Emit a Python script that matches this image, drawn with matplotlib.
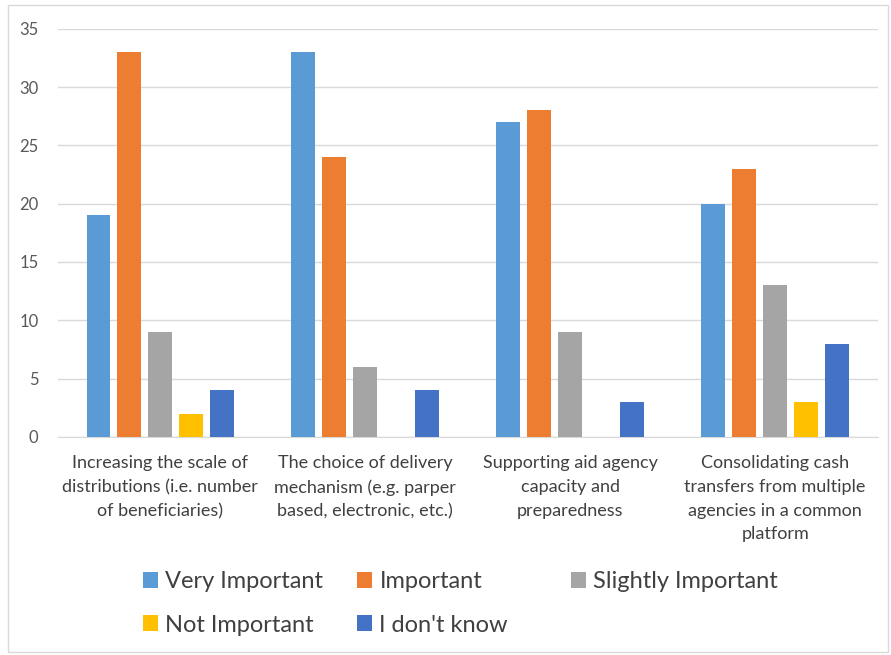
import numpy as np
import matplotlib.pyplot as plt
from matplotlib.patches import Rectangle

categories = ["Increasing the scale of\ndistributions (i.e. number\nof beneficiaries)",
              "The choice of delivery\nmechanism (e.g. parper\nbased, electronic, etc.)",
              "Supporting aid agency\ncapacity and\npreparedness",
              "Consolidating cash\ntransfers from multiple\nagencies in a common\nplatform"]
series = ["Very Important", "Important", "Slightly Important", "Not Important", "I don't know"]
very_important = [19, 33, 27, 20]
important = [33, 24, 28, 23]
slightly_important = [9, 6, 9, 13]
not_important = [2, 0, 0, 3]
dont_know = [4, 4, 3, 8]
values = [very_important, important, slightly_important, not_important, dont_know]
colors = ["#5B9BD5", "#ED7D31", "#A5A5A5", "#FFC000", "#4472C4"]

plt.rcParams['font.family'] = ['Lato', 'DejaVu Sans']

fig = plt.figure(figsize=(8.91, 6.55), dpi=100)
ax = fig.add_axes([0.065, 0.333, 0.92, 0.623])

x = np.arange(len(categories))
step = 0.151
width = 0.117
handles = []
for j, (name, vals) in enumerate(zip(series, values)):
    b = ax.bar(x + (j - 2) * step, vals, width, color=colors[j], label=name, zorder=3)
    handles.append(b)

ax.set_xlim(-0.5, 3.5)
ax.set_ylim(0, 35)
ax.set_yticks(range(0, 36, 5))
ax.grid(axis='y', color='#D9D9D9', linewidth=1, zorder=0)
for s in ['top', 'right', 'left']:
    ax.spines[s].set_visible(False)
ax.spines['bottom'].set_color('#D9D9D9')
ax.tick_params(axis='both', length=0)
ax.tick_params(axis='y', labelsize=12, labelcolor='#595959', pad=14)
ax.set_xticks(x)
ax.set_xticklabels(categories, fontsize=13, color='#404040', linespacing=1.6)
ax.tick_params(axis='x', pad=13)

# legend laid out in fixed-width columns like Excel
cols = [[0, 3], [1, 4], [2]]
col_x = [0.1605, 0.4007, 0.6409]
for cx, idx in zip(col_x, cols):
    fig.legend([handles[i] for i in idx], [series[i] for i in idx],
               loc='upper left', bbox_to_anchor=(cx, 0.128), frameon=False,
               fontsize=17, handlelength=0.65, handleheight=0.65, handletextpad=0.3,
               labelspacing=0.95, labelcolor='#404040', borderpad=0, borderaxespad=0)

fig.patches.append(Rectangle((0.009, 0.005), 0.988, 0.987, transform=fig.transFigure,
                             fill=False, edgecolor='#D9D9D9', linewidth=1))

plt.savefig("out.png")
